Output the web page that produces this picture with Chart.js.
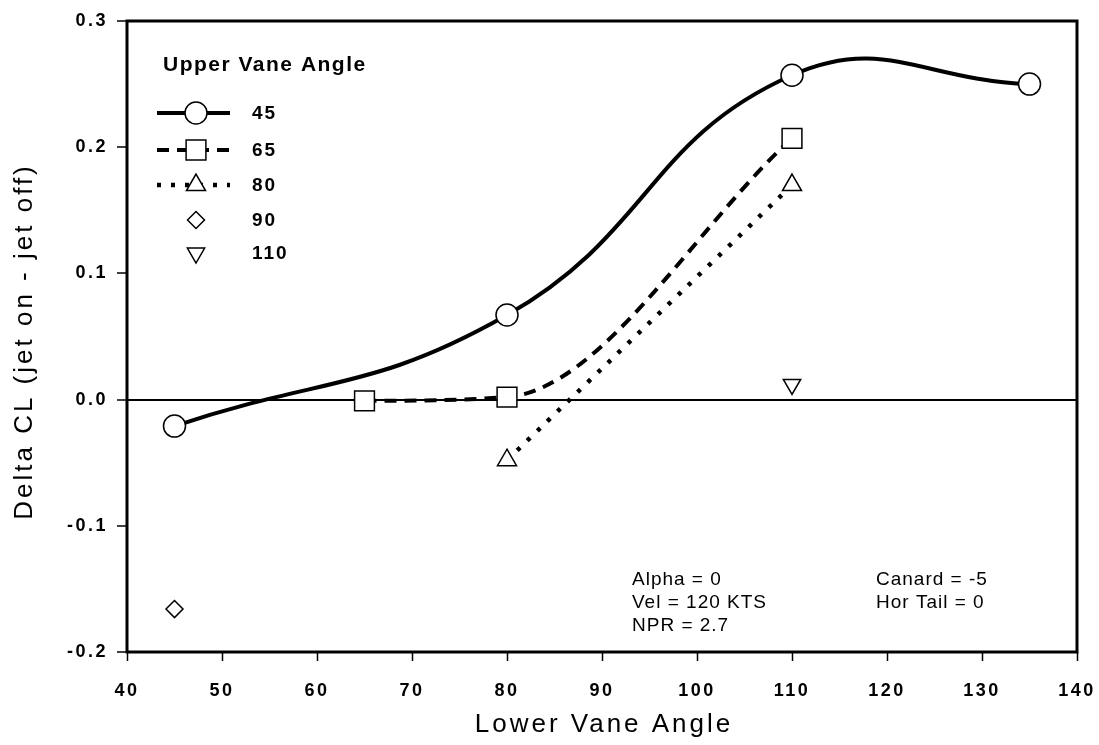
<!DOCTYPE html>
<html>
<head>
<meta charset="utf-8">
<script src="https://cdn.jsdelivr.net/npm/chart.js@4.4.1/dist/chart.umd.min.js"></script>
<style>
  html, body { margin: 0; padding: 0; background: #fff; }
  #wrap { width: 1099px; height: 745px; }
</style>
</head>
<body>
<div id="wrap"><canvas id="myChart"></canvas></div>
<script>
const xTicks = [40, 50, 60, 70, 80, 90, 100, 110, 120, 130, 140];
const yTicks = [-0.2, -0.1, 0, 0.1, 0.2, 0.3];

// Lower vane angle / delta CL, one pair per upper vane angle
const lower45 = [45, 80, 110, 135];
const cl45 = [-0.021, 0.067, 0.257, 0.250];
const lower65 = [65, 80, 110];
const cl65 = [-0.001, 0.002, 0.207];
const lower80 = [80, 110];
const cl80 = [-0.048, 0.170];
const lower90 = [45];
const cl90 = [-0.166];
const lower110 = [110];
const cl110 = [0.012];

const legendTitle = 'Upper Vane Angle';
const notesLeft = ['Alpha = 0', 'Vel = 120 KTS', 'NPR = 2.7'];
const notesRight = ['Canard = -5', 'Hor Tail = 0'];

const FONT = '"Liberation Sans", Arial, sans-serif';

function pts(xs, ys) {
    return xs.map((x, i) => ({ x: x, y: ys[i] }));
}

const markerBase = {
    borderColor: '#000',
    pointBackgroundColor: '#fff',
    pointBorderColor: '#000',
    pointBorderWidth: 1.5,
    pointHoverRadius: 0
};

const datasets = [
    Object.assign({}, markerBase, {
        label: '45', data: pts(lower45, cl45), showLine: true, borderWidth: 4,
        tension: 0.45, pointStyle: 'circle', pointRadius: 11
    }),
    Object.assign({}, markerBase, {
        label: '65', data: pts(lower65, cl65), showLine: true, borderWidth: 4,
        borderDash: [12, 8], cubicInterpolationMode: 'monotone', pointStyle: 'rect', pointRadius: 14
    }),
    Object.assign({}, markerBase, {
        label: '80', data: pts(lower80, cl80), showLine: true, borderWidth: 4.5,
        borderDash: [4, 10], tension: 0.4, pointStyle: 'triangle', pointRadius: 11
    }),
    Object.assign({}, markerBase, {
        label: '90', data: pts(lower90, cl90), showLine: false,
        pointStyle: 'rectRot', pointRadius: 8.5
    }),
    Object.assign({}, markerBase, {
        label: '110', data: pts(lower110, cl110), showLine: false,
        pointStyle: 'triangle', pointRotation: 180, pointRadius: 10
    })
];

const decor = {
    id: 'decor',
    beforeLayout(chart) { chart.ctx.letterSpacing = '2.5px'; },
    beforeDraw(chart) { chart.ctx.letterSpacing = '2.5px'; },
    afterDraw(chart) {
        const ctx = chart.ctx;
        const a = chart.chartArea;
        ctx.save();
        ctx.strokeStyle = '#000';
        ctx.fillStyle = '#000';

        // frame
        ctx.lineWidth = 3;
        ctx.setLineDash([]);
        ctx.strokeRect(a.left, a.top, a.right - a.left, a.bottom - a.top);

        // axis titles
        ctx.letterSpacing = '3px';
        ctx.font = '26px ' + FONT;
        ctx.textAlign = 'center';
        ctx.textBaseline = 'middle';
        ctx.fillText('Lower Vane Angle', (a.left + a.right) / 2 + 2, 725);
        ctx.save();
        ctx.translate(25, (a.top + a.bottom) / 2 + 5);
        ctx.rotate(-Math.PI / 2);
        ctx.fillText('Delta CL (jet on - jet off)', 0, 0);
        ctx.restore();

        // legend
        ctx.textAlign = 'left';
        ctx.letterSpacing = '1.5px';
        ctx.font = 'bold 21px ' + FONT;
        ctx.fillText(legendTitle, a.left + 36, a.top + 44);
        const rows = [92, 129, 164, 199, 232];
        chart.data.datasets.forEach((ds, i) => {
            const y = a.top + rows[i];
            const mx = a.left + 69;
            if (ds.showLine) {
                ctx.lineWidth = ds.borderWidth;
                ctx.setLineDash(ds.borderDash || []);
                ctx.beginPath();
                ctx.moveTo(a.left + 30, y);
                ctx.lineTo(a.left + 103, y);
                ctx.stroke();
            }
            ctx.setLineDash([]);
            ctx.lineWidth = ds.pointBorderWidth;
            ctx.fillStyle = '#fff';
            Chart.helpers.drawPoint(ctx, {
                pointStyle: ds.pointStyle,
                radius: ds.pointRadius,
                rotation: ds.pointRotation || 0,
                borderWidth: ds.pointBorderWidth
            }, mx, y);
            ctx.fillStyle = '#000';
            ctx.letterSpacing = '2px';
            ctx.font = 'bold 19px ' + FONT;
            ctx.fillText(ds.label, a.left + 125, y + 1);
        });

        // run conditions
        ctx.letterSpacing = '1px';
        ctx.font = '19px ' + FONT;
        notesLeft.forEach((t, i) => ctx.fillText(t, 632, 580 + i * 23));
        notesRight.forEach((t, i) => ctx.fillText(t, 876, 580 + i * 23));
        ctx.restore();
    }
};

const ctx = document.getElementById('myChart');

new Chart(ctx, {
    type: 'scatter',
    data: { datasets: datasets },
    options: {
        responsive: true,
        maintainAspectRatio: false,
        animation: false,
        layout: { padding: { top: 21, right: 22, left: 0, bottom: 0 } },
        plugins: { legend: { display: false }, tooltip: { enabled: false } },
        scales: {
            x: {
                type: 'linear', min: 40, max: 140,
                afterBuildTicks: s => { s.ticks = xTicks.map(v => ({ value: v })); },
                afterFit: s => { s.height = 93; s.paddingLeft = 0; s.paddingRight = 0; },
                ticks: {
                    color: '#000', padding: 19, maxRotation: 0, autoSkip: false,
                    font: { family: FONT, size: 18, weight: 'bold' }
                },
                grid: { drawOnChartArea: false, tickLength: 9, tickColor: '#000', tickWidth: 1.5 },
                border: { display: false }
            },
            y: {
                type: 'linear', min: -0.2, max: 0.3,
                afterBuildTicks: s => { s.ticks = yTicks.map(v => ({ value: v })); },
                afterFit: s => { s.width = 127; s.paddingTop = 0; s.paddingBottom = 0; },
                ticks: {
                    color: '#000', padding: 9,
                    font: { family: FONT, size: 18, weight: 'bold' },
                    callback: v => v.toFixed(1)
                },
                grid: {
                    color: c => (c.tick && c.tick.value === 0) ? '#000' : 'rgba(0,0,0,0)',
                    lineWidth: 2, tickLength: 10, tickColor: '#000', tickWidth: 1.5
                },
                border: { display: false }
            }
        }
    },
    plugins: [decor]
});
</script>
</body>
</html>
